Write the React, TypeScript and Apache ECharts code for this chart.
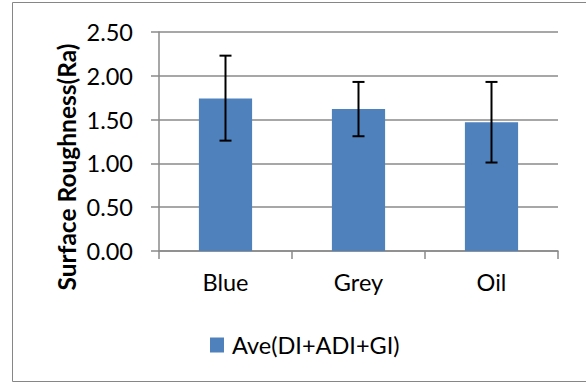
import React, { useEffect, useRef } from "react";
import * as echarts from "echarts";

const categories = ["Blue", "Grey", "Oil"];
const means = [1.74, 1.62, 1.47];
const errHigh = [2.23, 1.93, 1.93];
const errLow = [1.26, 1.31, 1.01];
const seriesName = "Ave(DI+ADI+GI)";
const yTitle = "Surface Roughness(Ra)";

const FONT = "Lato";
const GRAY = "#8a8a8a";
const FS = 23.5;

export default function App() {
  const ref = useRef<HTMLDivElement>(null);
  useEffect(() => {
    if (!ref.current) return;
    const chart = echarts.init(ref.current, null, { renderer: "svg" });
    const errData = categories.map((_, i) => [i, errHigh[i], errLow[i]]);
    chart.setOption({
      animation: false,
      backgroundColor: "#fff",
      textStyle: { fontFamily: FONT },
      grid: { left: 159, right: 28, top: 32, bottom: 132, containLabel: false },
      legend: {
        data: [seriesName],
        left: 210,
        top: 333,
        padding: 0,
        itemWidth: 14,
        itemHeight: 15,
        icon: "rect",
        textStyle: { fontFamily: FONT, fontSize: FS, color: "#000", padding: [0, 0, 0, 3] },
      },
      xAxis: {
        type: "category",
        data: categories,
        axisLine: { show: true, lineStyle: { color: GRAY, width: 1.5 } },
        axisTick: { show: true, alignWithLabel: false, length: 8, lineStyle: { color: GRAY, width: 1.5 } },
        axisLabel: { fontFamily: FONT, fontSize: FS, color: "#000", margin: 19 },
      },
      yAxis: {
        type: "value",
        min: 0,
        max: 2.5,
        interval: 0.5,
        axisLine: { show: true, lineStyle: { color: GRAY, width: 1.5 } },
        axisTick: { show: true, length: 8, lineStyle: { color: GRAY, width: 1.5 } },
        axisLabel: {
          fontFamily: FONT,
          fontSize: FS,
          color: "#000",
          margin: 26,
          formatter: (v: number) => v.toFixed(2),
        },
        splitLine: { show: true, lineStyle: { color: GRAY, width: 1.5 } },
      },
      graphic: [
        {
          type: "rect",
          shape: { x: 12.5, y: 2.5, width: 600, height: 379 },
          style: { fill: "none", stroke: "#868686", lineWidth: 1 },
          silent: true,
        },
        {
          type: "text",
          x: 66,
          y: 167,
          rotation: Math.PI / 2,
          style: {
            text: yTitle,
            fontFamily: FONT,
            fontWeight: "bold",
            fontSize: 24.5,
            fill: "#000",
            align: "center",
            verticalAlign: "middle",
          },
        },
      ],
      series: [
        {
          name: seriesName,
          type: "bar",
          data: means,
          barWidth: "40%",
          itemStyle: { color: "#4f81bd" },
        },
        {
          name: "err",
          type: "custom",
          data: errData,
          encode: { x: 0, y: [1, 2] },
          z: 10,
          renderItem: (params: any, api: any) => {
            const x = api.value(0);
            const hi = api.coord([x, api.value(1)]);
            const lo = api.coord([x, api.value(2)]);
            const hw = 6;
            const style = { stroke: "#000", lineWidth: 2 };
            return {
              type: "group",
              children: [
                { type: "line", shape: { x1: hi[0], y1: hi[1], x2: lo[0], y2: lo[1] }, style },
                { type: "line", shape: { x1: hi[0] - hw, y1: hi[1], x2: hi[0] + hw, y2: hi[1] }, style },
                { type: "line", shape: { x1: lo[0] - hw, y1: lo[1], x2: lo[0] + hw, y2: lo[1] }, style },
              ],
            };
          },
        },
      ],
    });
    return () => chart.dispose();
  }, []);
  return (
    <div
      ref={ref}
      style={{ position: "absolute", left: 0, top: 0, width: 586, height: 383 }}
    />
  );
}
